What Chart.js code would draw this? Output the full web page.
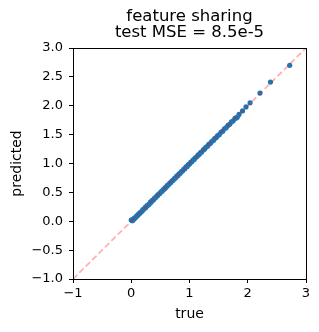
<!DOCTYPE html>
<html>
<head>
<meta charset="utf-8">
<script src="https://cdn.jsdelivr.net/npm/chart.js@4"></script>
<style>
    html, body { margin: 0; padding: 0; background: #ffffff; }
    #wrap { width: 319px; height: 332px; }
</style>
</head>
<body>
<div id="wrap"><canvas id="chart" width="319" height="332"></canvas></div>
<script>
// true / predicted values
const trueVals = [
    0.00, 0.01, 0.02, 0.03, 0.04, 0.05, 0.06, 0.08, 0.09, 0.11,
    0.12, 0.14, 0.15, 0.17, 0.19, 0.20, 0.22, 0.24, 0.25, 0.27,
    0.29, 0.31, 0.33, 0.34, 0.36, 0.38, 0.40, 0.42, 0.44, 0.45,
    0.47, 0.49, 0.51, 0.53, 0.55, 0.57, 0.58, 0.60, 0.62, 0.64,
    0.66, 0.68, 0.70, 0.72, 0.74, 0.76, 0.78, 0.80, 0.82, 0.84,
    0.86, 0.88, 0.90, 0.92, 0.94, 0.96, 0.98, 1.00, 1.02, 1.04,
    1.06, 1.08, 1.10, 1.13, 1.15, 1.17, 1.19, 1.21, 1.24, 1.26,
    1.28, 1.31, 1.33, 1.36, 1.38, 1.41, 1.43, 1.46, 1.48, 1.51,
    1.54, 1.57, 1.60, 1.63, 1.66, 1.69, 1.72, 1.75, 1.78, 1.80,
    1.82, 1.85, 1.91, 1.97, 2.04, 2.21, 2.39, 2.72
];
const predVals = [
    0.02, 0.02, 0.01, 0.03, 0.03, 0.05, 0.05, 0.07, 0.09, 0.10,
    0.12, 0.13, 0.15, 0.16, 0.18, 0.20, 0.21, 0.24, 0.24, 0.27,
    0.28, 0.30, 0.33, 0.33, 0.36, 0.37, 0.40, 0.41, 0.44, 0.44,
    0.47, 0.48, 0.51, 0.52, 0.55, 0.56, 0.58, 0.59, 0.62, 0.63,
    0.66, 0.67, 0.70, 0.71, 0.74, 0.75, 0.78, 0.79, 0.82, 0.83,
    0.86, 0.87, 0.90, 0.91, 0.94, 0.95, 0.98, 0.99, 1.02, 1.03,
    1.06, 1.07, 1.10, 1.12, 1.15, 1.16, 1.19, 1.20, 1.24, 1.25,
    1.28, 1.30, 1.33, 1.35, 1.38, 1.40, 1.43, 1.45, 1.48, 1.50,
    1.54, 1.56, 1.60, 1.62, 1.66, 1.68, 1.72, 1.74, 1.78, 1.79,
    1.80, 1.85, 1.91, 1.98, 2.05, 2.22, 2.41, 2.70
];
const diagLine = [-1, 3];
const xTicks = [-1, 0, 1, 2, 3];
const yTicks = [-1.0, -0.5, 0.0, 0.5, 1.0, 1.5, 2.0, 2.5, 3.0];
const titleLines = ["feature sharing", "test MSE = 8.5e-5"];

const FONT = "'DejaVu Sans', sans-serif";

function fmt(v, digits) {
    const s = Math.abs(v).toFixed(digits);
    return v < 0 ? "\u2212" + s : s;
}

// black frame round the plot area, like a matplotlib axes box
const frame = {
    id: "frame",
    afterDraw(chart) {
        const a = chart.chartArea;
        const ctx = chart.ctx;
        ctx.save();
        ctx.strokeStyle = "#000000";
        ctx.lineWidth = 1;
        ctx.strokeRect(Math.round(a.left) + 0.5, Math.round(a.top) + 0.5,
            Math.round(a.right - a.left), Math.round(a.bottom - a.top));
        ctx.restore();
    }
};

const tickOpts = { color: "#000000", font: { family: FONT, size: 13 } };
const gridOpts = { display: true, drawOnChartArea: false, drawTicks: true, tickLength: 4, tickColor: "#000000", tickWidth: 1 };

new Chart(document.getElementById("chart").getContext("2d"), {
    type: "scatter",
    data: {
        datasets: [
            {
                type: "line",
                data: diagLine.map(v => ({ x: v, y: v })),
                borderColor: "rgba(255, 0, 0, 0.3)",
                borderWidth: 1.8,
                borderDash: [6, 3],
                pointRadius: 0,
                fill: false,
                order: 0
            },
            {
                data: trueVals.map((v, i) => ({ x: v, y: predVals[i] })),
                backgroundColor: "#1f77b4",
                borderColor: "#1f77b4",
                borderWidth: 0,
                pointRadius: 2.6,
                order: 1
            }
        ]
    },
    options: {
        responsive: false,
        animation: false,
        devicePixelRatio: 1,
        layout: { padding: { left: 0, right: 13, top: 0, bottom: 0 } },
        plugins: {
            legend: { display: false },
            tooltip: { enabled: false },
            title: {
                display: true,
                text: titleLines,
                fullSize: false,
                color: "#000000",
                font: { family: FONT, size: 16.5, weight: "normal", lineHeight: 1.0 },
                padding: { top: 8, bottom: 7 }
            }
        },
        scales: {
            x: {
                type: "linear",
                min: -1, max: 3,
                afterBuildTicks: s => { s.ticks = xTicks.map(v => ({ value: v })); },
                afterFit: s => { s.height = 53; },
                ticks: Object.assign({ padding: 3, maxRotation: 0, callback: v => fmt(v, 0) }, tickOpts),
                grid: gridOpts,
                border: { display: true, color: "#000000", width: 1 },
                title: { display: true, text: "true", color: "#000000", font: { family: FONT, size: 14 }, padding: { top: 9, bottom: 9 } }
            },
            y: {
                type: "linear",
                min: -1, max: 3,
                afterBuildTicks: s => { s.ticks = yTicks.map(v => ({ value: v })); },
                afterFit: s => { s.width = 73; },
                ticks: Object.assign({ padding: 6, callback: v => fmt(v, 1) }, tickOpts),
                grid: gridOpts,
                border: { display: true, color: "#000000", width: 1 },
                title: { display: true, text: "predicted", color: "#000000", font: { family: FONT, size: 14 }, padding: { top: 9, bottom: 9 } }
            }
        }
    },
    plugins: [frame]
});
</script>
</body>
</html>
